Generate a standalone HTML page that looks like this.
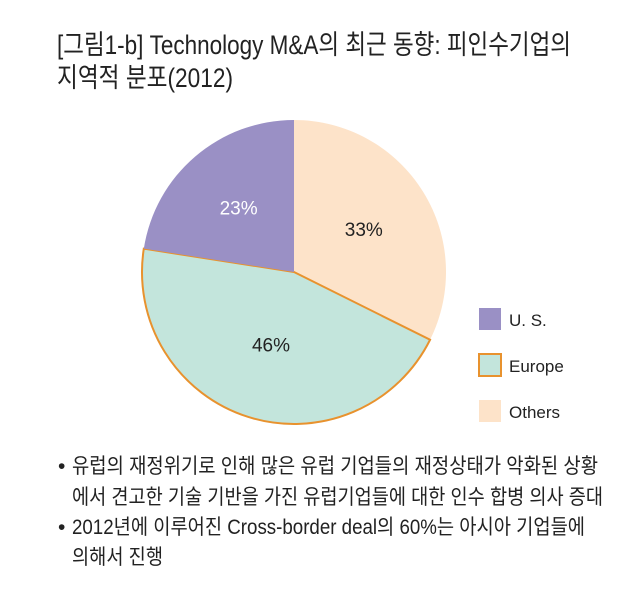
<!DOCTYPE html>
<html><head><meta charset="utf-8"><style>
html,body{margin:0;padding:0;background:#fff;}
svg{display:block;}
text{font-family:"Liberation Sans","Noto Sans CJK KR","NanumGothic",sans-serif;}
</style></head><body>
<svg id="chart" width="640" height="593" viewBox="0 0 640 593">
  <text x="57" y="54" font-size="27" fill="#222" textLength="514" lengthAdjust="spacingAndGlyphs">[그림1-b] Technology M&amp;A의 최근 동향: 피인수기업의</text>
  <text x="57" y="87" font-size="27" fill="#222" textLength="176" lengthAdjust="spacingAndGlyphs">지역적 분포(2012)</text>
  <g id="slices"></g>
  <g id="legend"></g>
  <g font-size="21" fill="#222">
    <text x="58" y="473">•</text>
    <text x="72" y="473" textLength="526" lengthAdjust="spacingAndGlyphs">유럽의 재정위기로 인해 많은 유럽 기업들의 재정상태가 악화된 상황</text>
    <text x="72" y="504" textLength="531" lengthAdjust="spacingAndGlyphs">에서 견고한 기술 기반을 가진 유럽기업들에 대한 인수 합병 의사 증대</text>
    <text x="58" y="534">•</text>
    <text x="72" y="534" textLength="513" lengthAdjust="spacingAndGlyphs">2012년에 이루어진 Cross-border deal의 60%는 아시아 기업들에</text>
    <text x="72" y="564" textLength="91" lengthAdjust="spacingAndGlyphs">의해서 진행</text>
  </g>
</svg>
<script>
const categories = ["Others", "Europe", "U. S."];
const values = [33, 46, 23];
const labels = ["33%", "46%", "23%"];
const legendOrder = ["U. S.", "Europe", "Others"];

const NS = "http://www.w3.org/2000/svg";
const cx = 294, cy = 272, r = 152;
const fills = {"Others":"#fde3c9","Europe":"#c3e5dc","U. S.":"#9a90c5"};
const strokes = {"Others":"none","Europe":"#e8922e","U. S.":"none"};
const labelColor = {"Others":"#222","Europe":"#222","U. S.":"#fff"};
const labelR = {"Others":0.54,"Europe":0.5,"U. S.":0.56};
const total = values.reduce((a,b)=>a+b,0);
function pt(a, rr){ return [cx + rr*Math.sin(a), cy - rr*Math.cos(a)]; }
const g = document.getElementById('slices');
let start = 0;
const labelEls = [];
values.forEach((v,i)=>{
  const ang = v/total*2*Math.PI;
  const end = start + ang;
  const [x1,y1] = pt(start,r), [x2,y2] = pt(end,r);
  const p = document.createElementNS(NS,'path');
  p.setAttribute('d', `M${cx},${cy} L${x1},${y1} A${r},${r} 0 ${ang>Math.PI?1:0} 1 ${x2},${y2} Z`);
  p.setAttribute('fill', fills[categories[i]]);
  if (strokes[categories[i]] !== 'none') { p.setAttribute('stroke', strokes[categories[i]]); p.setAttribute('stroke-width','2'); }
  
  
  g.appendChild(p);
  const mid = start + ang/2;
  const [lx,ly] = pt(mid, r*labelR[categories[i]]);
  const t = document.createElementNS(NS,'text');
  t.setAttribute('x', lx); t.setAttribute('y', ly+7);
  t.setAttribute('text-anchor','middle'); t.setAttribute('font-size','19');
  t.setAttribute('fill', labelColor[categories[i]]);
  t.textContent = labels[i];
  
  
  labelEls.push(t);
  start = end;
});
labelEls.forEach(t=>g.appendChild(t));
const lg = document.getElementById('legend');
legendOrder.forEach((c,i)=>{
  const y = 308 + i*46;
  const rect = document.createElementNS(NS,'rect');
  rect.setAttribute('x', 479); rect.setAttribute('y', y);
  rect.setAttribute('width', 22); rect.setAttribute('height', 22);
  rect.setAttribute('fill', fills[c]);
  if (strokes[c] !== 'none') { rect.setAttribute('stroke', strokes[c]); rect.setAttribute('stroke-width','2'); }
  
  
  lg.appendChild(rect);
  const t = document.createElementNS(NS,'text');
  t.setAttribute('x', 509); t.setAttribute('y', y+18);
  t.setAttribute('font-size','17'); t.setAttribute('fill','#222');
  t.textContent = c;
  
  
  lg.appendChild(t);
});
</script>
</body></html>
